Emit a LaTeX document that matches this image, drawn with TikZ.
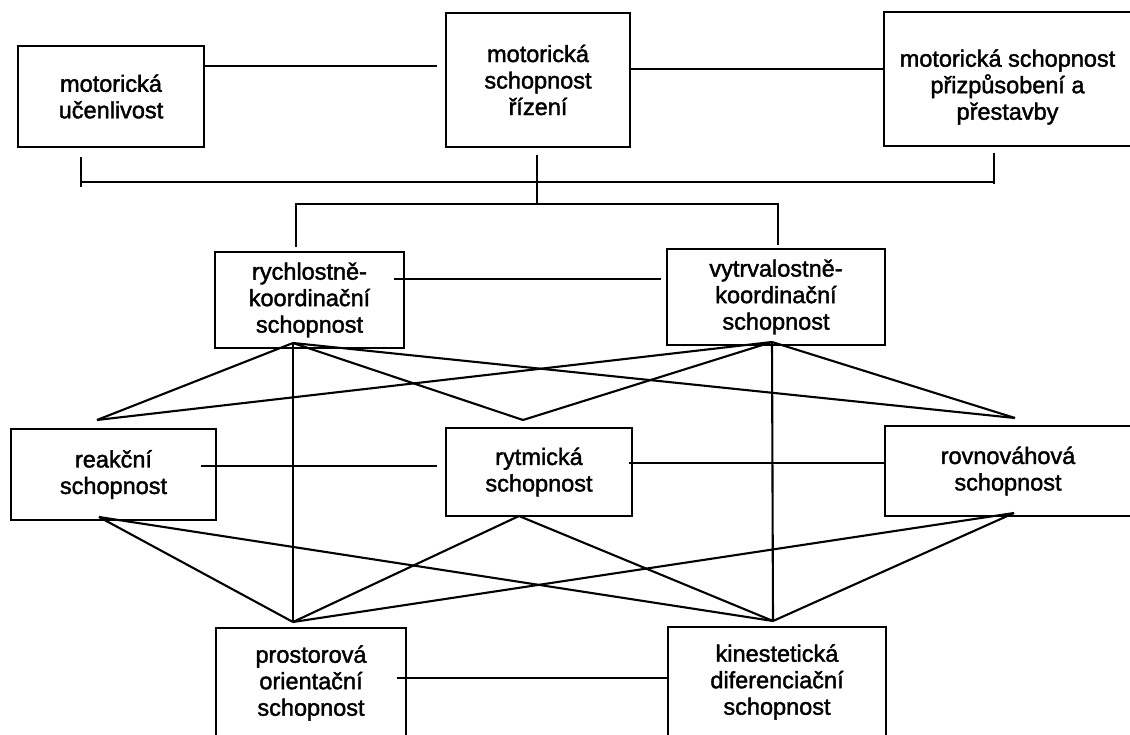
\documentclass[tikz,border=0pt]{standalone}
\usepackage{fontspec}
\setmainfont{Liberation Sans}
\newfontfamily\labelfont[FakeBold=1.7]{Liberation Sans}
\usetikzlibrary{calc}
\begin{document}
\begin{tikzpicture}[x=1pt,y=-1pt,
  lbl/.style={inner sep=0pt, align=center, font=\labelfont\fontsize{23.5}{26.5}\selectfont},
  box/.style={lbl, draw, line width=1.3pt, rectangle},
  link/.style={line width=2.1pt}]
\useasboundingbox (0,0) rectangle (1130,735);
\fill[white] (0,0) rectangle (1130,735);
\clip (0,0) rectangle (1130,735);

% top row
\node[box, minimum width=186, minimum height=101] (ucen)   at (111,96.5) {motorická\\učenlivost};
\node[box, minimum width=184, minimum height=134] (rizeni) at (538,80)   {motorická\\schopnost\\řízení};
\node[box, minimum width=247, minimum height=134] (prizp)  at (1007.5,79) {};
\node[lbl] (prizptext) at ($(prizp.center)+(0,8)$) {motorická schopnost\\přizpůsobení a\\přestavby};

% second row
\node[box, minimum width=189, minimum height=96] (rychl) at (309.5,300) {rychlostně-\\koordinační\\schopnost};
\node[box, minimum width=218, minimum height=96] (vytrv) at (776,297)   {vytrvalostně-\\koordinační\\schopnost};

% third row
\node[box, minimum width=205, minimum height=91] (reak) at (113.5,474.5) {reakční\\schopnost};
\node[box, minimum width=186, minimum height=88] (rytm) at (539,472)     {rytmická\\schopnost};
\node[box, minimum width=246, minimum height=90] (rovn) at (1008,471)    {rovnováhová\\schopnost};

% bottom row
\node[box, minimum width=190, minimum height=110] (prost) at (311,683) {prostorová\\orientační\\schopnost};
\node[box, minimum width=218, minimum height=110] (kin)   at (777,682) {kinestetická\\diferenciační\\schopnost};

% horizontal links within rows
\draw[link] (ucen.east |- 0,66) -- ($(rizeni.west |- 0,66)+(-8,0)$);
\draw[link] (rizeni.east |- 0,69) -- (prizp.west |- 0,69);
\draw[link] ($(rychl.east |- 0,279)+(-11,0)$) -- ($(vytrv.west |- 0,279)+(-5,0)$);
\draw[link] ($(reak.east |- 0,466)+(-16,0)$) -- ($(rytm.west |- 0,466)+(-8,0)$);
\draw[link] ($(rytm.east |- 0,463)+(-4,0)$) -- (rovn.west |- 0,463);
\draw[link] ($(prost.east |- 0,678)+(-10,0)$) -- (kin.west |- 0,678);

% bracket joining the top row
\coordinate (brL) at (81,182);
\coordinate (brR) at (994,182);
\draw[link] (81,157) -- (81,187);
\draw[link] (994,153) -- (994,184);
\draw[link] (brL) -- (brR);
\draw[link] (537,155) -- (537,204);
\draw[link] (296,247) -- (296,204) -- (778,204) -- (778,245);

% meeting points of the cross links
\coordinate (rychlB) at (293,343);
\coordinate (vytrvB) at (772,342);
\coordinate (reakT)  at (97,420);
\coordinate (rytmT)  at (523,420);
\coordinate (rovnT)  at (1015,418);
\coordinate (reakB)  at (99,517);
\coordinate (rytmB)  at (519,516);
\coordinate (rovnB)  at (1014,513);
\coordinate (prostT) at (293,622);
\coordinate (kinT)   at (773,621);

% second row to third and bottom rows
\draw[link] (rychlB) -- (reakT);
\draw[link] (rychlB) -- (rytmT);
\draw[link] (rychlB) -- (rovnT);
\draw[link] (rychlB) -- (prostT);
\draw[link] (vytrvB) -- (reakT);
\draw[link] (vytrvB) -- (rytmT);
\draw[link] (vytrvB) -- (rovnT);
\draw[link] (vytrvB) -- (kinT);

% third row to bottom row
\draw[link] (reakB) -- (prostT);
\draw[link] (reakB) -- (kinT);
\draw[link] (rytmB) -- (prostT);
\draw[link] (rytmB) -- (kinT);
\draw[link] (rovnB) -- (prostT);
\draw[link] (rovnB) -- (kinT);
\end{tikzpicture}
\end{document}
